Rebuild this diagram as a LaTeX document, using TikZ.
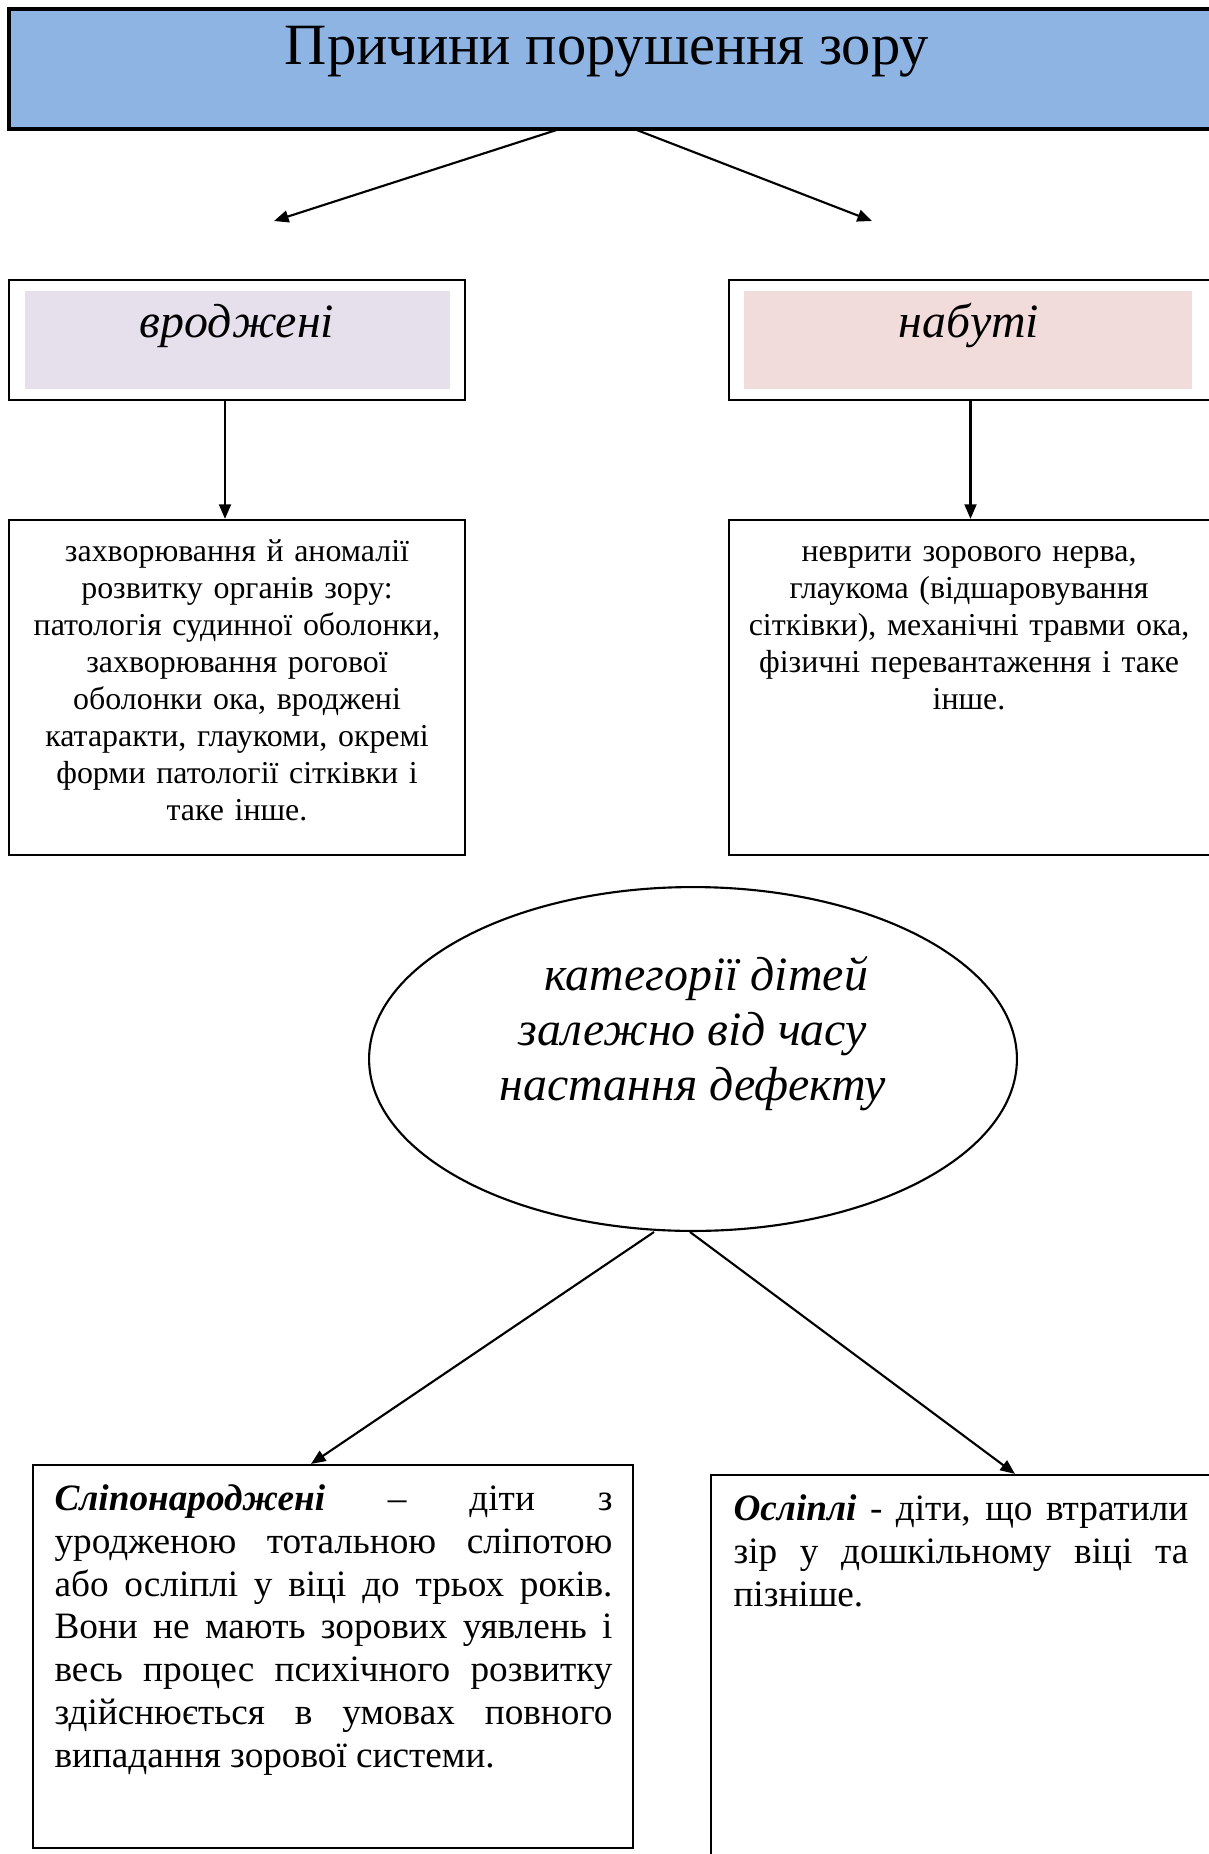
\documentclass[tikz,border=0pt]{standalone}
\usepackage{fontspec}
\setmainfont{Liberation Serif}
\usetikzlibrary{shapes.geometric,arrows.meta,calc}
\setlength{\parindent}{0pt}
\definecolor{titleblue}{HTML}{8EB4E3}
\definecolor{lavender}{HTML}{E5E0EC}
\definecolor{rosefill}{HTML}{F2DCDB}
\begin{document}
\begin{tikzpicture}[x=0.376pt,y=-0.376pt,
    box/.style={draw,line width=0.8pt,inner sep=0pt},
    txt/.style={inner sep=0pt,align=center,anchor=north,font=\fontsize{12}{13.9}\selectfont},
    para/.style={inner sep=0pt,align=justify,anchor=north west,font=\fontsize{14}{16.1}\selectfont},
    arr/.style={-{Triangle[length=5.5pt,width=4.5pt]},line width=0.8pt}]
  \useasboundingbox (0,0) rectangle (1209,1854);
  \node[box,fill=titleblue,line width=1.2pt,minimum width=453.5pt,minimum height=45.1pt] (title) at (612,69) {};
  \node[font=\fontsize{22}{26}\selectfont] (titletext) at (607,52) {Причини порушення зору};
  \node[box,minimum width=171.5pt,minimum height=45.1pt] (vrodz) at (237,340) {};
  \node[fill=lavender,minimum width=159.8pt,minimum height=36.8pt,inner sep=0pt] (vrodzin) at (237.5,340) {};
  \node[font=\fontsize{18}{21}\selectfont\itshape] (vrodztext) at (237,326) {вроджені};
  \node[box,minimum width=181.6pt,minimum height=45.1pt] (nabut) at (970.5,340) {};
  \node[fill=rosefill,minimum width=168.4pt,minimum height=36.8pt,inner sep=0pt] (nabutin) at (968,340) {};
  \node[font=\fontsize{18}{21}\selectfont\itshape] (nabuttext) at (969,326) {набуті};
  \node[box,minimum width=171.5pt,minimum height=126pt] (vbox) at (237,687.5) {};
  \node[txt,text width=165pt] (vtext) at (237,539) {захворювання й аномалії\\розвитку органів зору:\\патологія судинної оболонки,\\захворювання рогової\\оболонки ока, вроджені\\катаракти, глаукоми, окремі\\форми патології сітківки і\\таке інше.};
  \node[box,minimum width=181.6pt,minimum height=126pt] (nbox) at (970.5,687.5) {};
  \node[txt,text width=175pt] (ntext) at (969,546) {неврити зорового нерва,\\глаукома (відшаровування\\сітківки), механічні травми ока,\\фізичні перевантаження і таке\\інше.};
  \node[ellipse,draw,line width=0.8pt,minimum width=243.6pt,minimum height=129.3pt,inner sep=0pt] (ell) at (693,1059) {};
  \node[align=center,inner sep=0pt,font=\fontsize{18}{20.7}\selectfont\itshape] (elltext) at (693,1034) {\hspace*{10pt}категорії дітей\\залежно від часу\\настання дефекту};
  \node[box,minimum width=225.6pt,minimum height=144pt] (lbox) at (333,1656.5) {};
  \node[para,text width=209.8pt] (ltext) at (54,1484) {\textbf{\textit{Сліпонароджені}} – діти з\linebreak уродженою тотальною сліпотою\linebreak або осліплі у віці до трьох років.\linebreak Вони не мають зорових уявлень і\linebreak весь процес психічного розвитку\linebreak здійснюється в умовах повного\linebreak випадання зорової системи.};
  \node[box,minimum width=188.4pt,minimum height=144.8pt] (rbox) at (961.5,1667.5) {};
  \node[para,text width=171pt] (rtext) at (733,1494) {\textbf{\textit{Осліплі}} - діти, що втратили\linebreak зір у дошкільному віці та\linebreak пізніше.};
  \coordinate (lend) at (274,221);
  \coordinate (rend) at (872,221);
  \draw[arr] ($(title.south)+(-51,-2)$) -- (lend);
  \draw[arr] ($(title.south)+(21,-2)$) -- (rend);
  \draw[arr] ($(vrodz.south)+(-12,0)$) -- ($(vbox.north)+(-12,0)$);
  \draw[arr] (nabut.south) -- (nbox.north);
  \draw[arr] ($(ell.south)+(-39,0)$) -- ($(lbox.north)+(-22,0)$);
  \draw[arr] ($(ell.south)+(-3,0)$) -- ($(rbox.north)+(53.5,0)$);
\end{tikzpicture}
\end{document}
